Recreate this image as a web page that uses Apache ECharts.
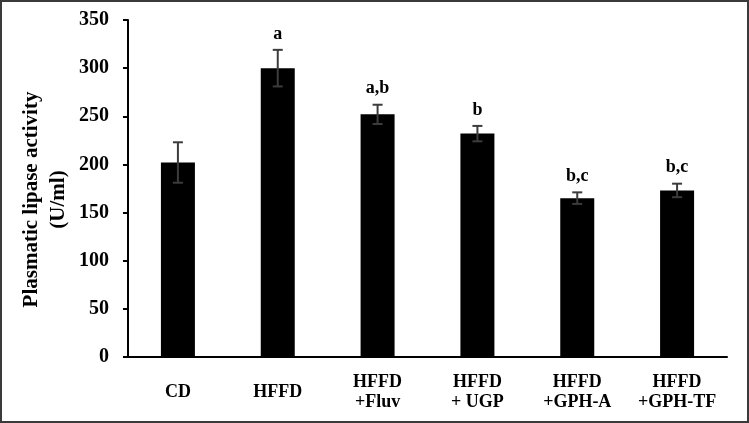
<!DOCTYPE html>
<html>
<head>
<meta charset="utf-8">
<script src="https://cdn.jsdelivr.net/npm/echarts@6/dist/echarts.min.js"></script>
<style>
  html, body { margin: 0; padding: 0; background: #fff; }
  #container { width: 749px; height: 423px; box-sizing: border-box; border: 2px solid #3a3a3a; }
</style>
</head>
<body>
<div id="container"></div>
<script>
var groups = ['CD', 'HFFD', 'HFFD\n+Fluv', 'HFFD\n+ UGP', 'HFFD\n+GPH-A', 'HFFD\n+GPH-TF'];
var means = [202, 300, 252, 232, 165, 173];
var sds = [21, 19, 10, 8, 6, 7];
var letters = ['', 'a', 'a,b', 'b', 'b,c', 'b,c'];
var yTicks = [0, 350, 50]; // min, max, step

var font = '"Liberation Serif", "Times New Roman", serif';

var dom = document.getElementById('container');
var myChart = echarts.init(dom);

var errData = means.map(function (m, i) { return [i, m, sds[i]]; });

var option = {
    animation: false,
    grid: { left: 126, right: 20, top: 18, bottom: 64 },
    xAxis: {
        type: 'category',
        data: groups,
        axisTick: { show: false },
        axisLine: { lineStyle: { color: '#000', width: 2 } },
        axisLabel: {
            color: '#000',
            fontFamily: font,
            fontWeight: 'bold',
            fontSize: 18,
            lineHeight: 20,
            margin: 35,
            verticalAlign: 'middle',
            interval: 0
        }
    },
    yAxis: {
        type: 'value',
        min: yTicks[0],
        max: yTicks[1],
        interval: yTicks[2],
        name: 'Plasmatic lipase activity\n(U/ml)',
        nameLocation: 'middle',
        nameRotate: 90,
        nameGap: 56,
        nameMoveOverlap: false,
        nameTextStyle: {
            color: '#000',
            fontFamily: font,
            fontWeight: 'bold',
            fontSize: 21,
            lineHeight: 27,
            padding: [0, 0, 0, -22]
        },
        splitLine: { show: false },
        axisLine: { show: true, lineStyle: { color: '#000', width: 2 } },
        axisTick: { show: true, length: 5, lineStyle: { color: '#000', width: 2 } },
        axisLabel: {
            color: '#000',
            fontFamily: font,
            fontWeight: 'bold',
            fontSize: 20,
            margin: 19
        }
    },
    series: [
        {
            type: 'bar',
            data: means,
            barWidth: 34,
            itemStyle: { color: '#000' }
        },
        {
            type: 'custom',
            data: errData,
            z: 10,
            renderItem: function (params, api) {
                var i = api.value(0);
                var m = api.value(1);
                var s = api.value(2);
                var top = api.coord([i, m + s]);
                var bot = api.coord([i, m - s]);
                var hw = 5;
                var st = { stroke: '#3c3c3c', lineWidth: 2 };
                return {
                    type: 'group',
                    children: [
                        { type: 'line', shape: { x1: top[0], y1: top[1], x2: bot[0], y2: bot[1] }, style: st },
                        { type: 'line', shape: { x1: top[0] - hw, y1: top[1], x2: top[0] + hw, y2: top[1] }, style: st },
                        { type: 'line', shape: { x1: bot[0] - hw, y1: bot[1], x2: bot[0] + hw, y2: bot[1] }, style: st },
                        {
                            type: 'text',
                            style: {
                                x: top[0], y: top[1] - 16,
                                text: letters[i],
                                fill: '#000',
                                font: 'bold 18px ' + font,
                                textAlign: 'center',
                                textVerticalAlign: 'middle'
                            }
                        }
                    ]
                };
            }
        }
    ]
};

myChart.setOption(option, true);
</script>
</body>
</html>
